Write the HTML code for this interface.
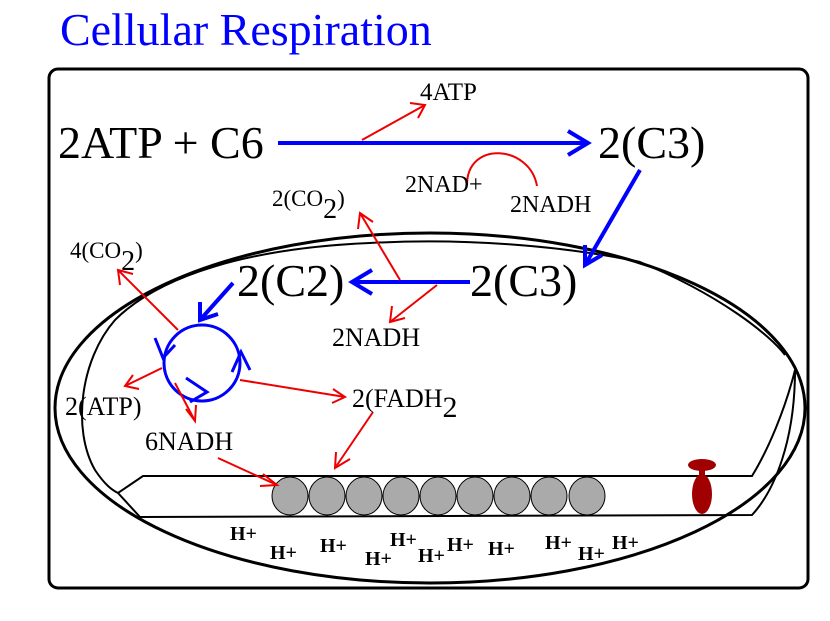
<!DOCTYPE html>
<html><head><meta charset="utf-8"><style>
html,body{margin:0;padding:0;background:#fff;}
svg{display:block;}
text{font-family:"Liberation Serif",serif;}
</style></head><body>
<svg width="830" height="621" viewBox="0 0 830 621" xmlns="http://www.w3.org/2000/svg">
<rect width="830" height="621" fill="#fff"/>
<text x="60" y="45" font-size="46" fill="#0000ff">Cellular Respiration</text>
<rect x="49" y="69" width="759" height="519" rx="9" fill="none" stroke="#000" stroke-width="3"/>
<ellipse cx="430" cy="408" rx="375" ry="175" fill="none" stroke="#000" stroke-width="3"/>
<path d="M785,355 C770,335 720,295 640,262 C560,245 460,238 370,243 C250,248 160,275 115,320 C80,360 72,430 95,470 C105,485 112,490 118,493 L143,476 L752,476 C768,450 785,410 795,370 M118,493 L140,517 L752,515 C775,490 795,440 795,370" fill="none" stroke="#000" stroke-width="2"/>
<g fill="#aaa" stroke="#000" stroke-width="1">
<ellipse cx="290" cy="496" rx="18" ry="19"/><ellipse cx="327" cy="496" rx="18" ry="19"/><ellipse cx="364" cy="496" rx="18" ry="19"/><ellipse cx="401" cy="496" rx="18" ry="19"/><ellipse cx="438" cy="496" rx="18" ry="19"/><ellipse cx="475" cy="496" rx="18" ry="19"/><ellipse cx="512" cy="496" rx="18" ry="19"/><ellipse cx="549" cy="496" rx="18" ry="19"/><ellipse cx="587" cy="496" rx="18" ry="19"/>
</g>
<ellipse cx="702" cy="465" rx="14" ry="6" fill="#a00000"/>
<ellipse cx="702" cy="494" rx="10" ry="20" fill="#a00000"/>
<rect x="699" y="465" width="6" height="10" fill="#a00000"/>
<g font-size="20" font-weight="bold" fill="#000">
<text x="230" y="540">H+</text><text x="270" y="559">H+</text><text x="320" y="552">H+</text><text x="365" y="565">H+</text><text x="390" y="546">H+</text><text x="418" y="562">H+</text><text x="447" y="551">H+</text><text x="488" y="555">H+</text><text x="545" y="549">H+</text><text x="578" y="560">H+</text><text x="612" y="549">H+</text>
</g>
<g stroke="#0000ff" stroke-width="4" fill="none">
<line x1="278" y1="143" x2="588" y2="143"/><polyline points="568,131 588,143 568,155"/>
<line x1="640" y1="170" x2="585" y2="265"/><polyline points="585,245 585,265 602,255"/>
<line x1="470" y1="282" x2="352" y2="282"/><polyline points="372,270 352,282 372,294"/>
<line x1="233" y1="283" x2="200" y2="320"/><polyline points="200,302 200,320 218,314"/>
<circle cx="202" cy="363" r="38" stroke-width="3"/>
<polyline points="155,338 163,358 175,345" stroke-width="3"/>
<polyline points="186,378 207,392 190,402" stroke-width="3"/>
<polyline points="232,372 241,352 250,370" stroke-width="3"/>
</g>
<g stroke="#ee0000" stroke-width="2" fill="none">
<line x1="362" y1="140" x2="425" y2="105"/><polyline points="410,103 425,105 418,118"/>
<path d="M467,185 C467,140 530,145 537,186"/>
<line x1="400" y1="280" x2="360" y2="213"/><polyline points="358,229 360,213 373,222"/>
<line x1="437" y1="285" x2="390" y2="322"/><polyline points="392,306 390,322 405,318"/>
<line x1="178" y1="330" x2="118" y2="270"/><polyline points="120,285 118,270 133,274"/>
<line x1="162" y1="368" x2="125" y2="386"/><polyline points="133,375 125,386 139,389"/>
<line x1="175" y1="383" x2="195" y2="421"/><polyline points="186,409 195,421 196,405"/>
<line x1="240" y1="380" x2="345" y2="397"/><polyline points="333,389 345,397 332,403"/>
<line x1="373" y1="412" x2="335" y2="468"/><polyline points="336,452 335,468 350,459"/>
<line x1="218" y1="458" x2="277" y2="485"/><polyline points="263,474 277,485 260,486"/>
</g>
<g fill="#000">
<text x="58" y="158" font-size="46">2ATP + C6</text>
<text x="598" y="158" font-size="46">2(C3)</text>
<text x="420" y="100" font-size="25">4ATP</text>
<text x="405" y="192" font-size="24">2NAD+</text>
<text x="510" y="212" font-size="24">2NADH</text>
<text x="272" y="206" font-size="23">2(CO<tspan font-size="28" dy="12">2</tspan><tspan dy="-12">)</tspan></text>
<text x="237" y="296" font-size="46">2(C2)</text>
<text x="470" y="296" font-size="46">2(C3)</text>
<text x="70" y="258" font-size="23">4(CO<tspan font-size="28" dy="12">2</tspan><tspan dy="-12">)</tspan></text>
<text x="332" y="346" font-size="26">2NADH</text>
<text x="65" y="415" font-size="26">2(ATP)</text>
<text x="352" y="407" font-size="26">2(FADH<tspan font-size="30" dy="10">2</tspan></text>
<text x="145" y="450" font-size="26">6NADH</text>
</g>
</svg>
</body></html>
